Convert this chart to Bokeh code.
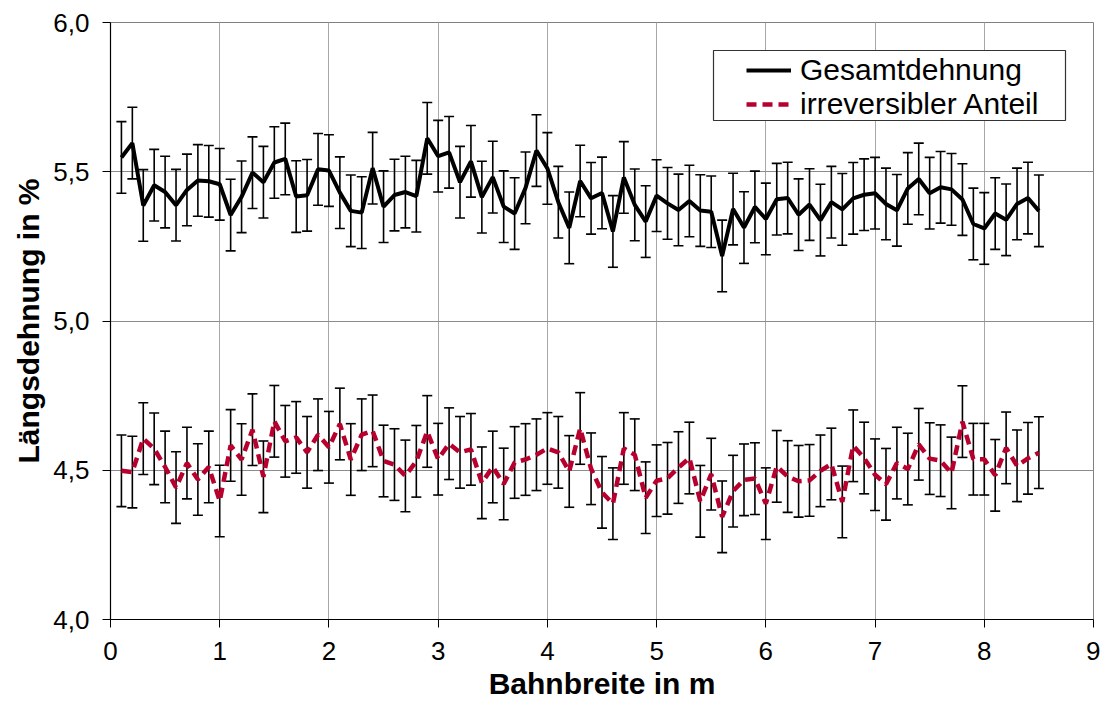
import numpy as np
from bokeh.plotting import figure
from bokeh.models import (ColumnDataSource, Whisker, TeeHead, Legend, LegendItem,
                          FixedTicker, CustomJSTickFormatter, Range1d, BoxAnnotation)
from bokeh.embed import file_html
from bokeh.resources import INLINE

# ---- data ----
x_pos = [0.1, 0.2, 0.3, 0.4, 0.5, 0.6, 0.7, 0.8, 0.9, 1.0,
         1.1, 1.2, 1.3, 1.4, 1.5, 1.6, 1.7, 1.8, 1.9, 2.0,
         2.1, 2.2, 2.3, 2.4, 2.5, 2.6, 2.7, 2.8, 2.9, 3.0,
         3.1, 3.2, 3.3, 3.4, 3.5, 3.6, 3.7, 3.8, 3.9, 4.0,
         4.1, 4.2, 4.3, 4.4, 4.5, 4.6, 4.7, 4.8, 4.9, 5.0,
         5.1, 5.2, 5.3, 5.4, 5.5, 5.6, 5.7, 5.8, 5.9, 6.0,
         6.1, 6.2, 6.3, 6.4, 6.5, 6.6, 6.7, 6.8, 6.9, 7.0,
         7.1, 7.2, 7.3, 7.4, 7.5, 7.6, 7.7, 7.8, 7.9, 8.0,
         8.1, 8.2, 8.3, 8.4, 8.5]

gesamt = [5.548, 5.596, 5.387, 5.455, 5.432, 5.388, 5.439, 5.471, 5.468, 5.458,
          5.355, 5.416, 5.497, 5.465, 5.531, 5.543, 5.417, 5.421, 5.508, 5.504,
          5.430, 5.369, 5.363, 5.512, 5.383, 5.422, 5.432, 5.418, 5.612, 5.552,
          5.565, 5.465, 5.535, 5.415, 5.482, 5.383, 5.360, 5.446, 5.571, 5.511,
          5.398, 5.312, 5.469, 5.411, 5.429, 5.300, 5.481, 5.389, 5.333, 5.420,
          5.394, 5.372, 5.402, 5.370, 5.366, 5.218, 5.375, 5.313, 5.382, 5.342,
          5.408, 5.412, 5.356, 5.390, 5.338, 5.398, 5.374, 5.411, 5.423, 5.428,
          5.392, 5.371, 5.444, 5.476, 5.428, 5.448, 5.441, 5.407, 5.325, 5.310,
          5.360, 5.339, 5.392, 5.412, 5.369]

irrev = [4.498, 4.494, 4.606, 4.572, 4.511, 4.442, 4.524, 4.469, 4.511, 4.397,
         4.583, 4.536, 4.636, 4.478, 4.664, 4.597, 4.610, 4.560, 4.619, 4.577,
         4.655, 4.536, 4.619, 4.632, 4.531, 4.519, 4.481, 4.530, 4.630, 4.537,
         4.589, 4.560, 4.570, 4.458, 4.511, 4.454, 4.526, 4.536, 4.552, 4.573,
         4.560, 4.496, 4.640, 4.505, 4.426, 4.388, 4.573, 4.552, 4.408, 4.465,
         4.473, 4.509, 4.541, 4.396, 4.487, 4.344, 4.430, 4.468, 4.472, 4.388,
         4.513, 4.479, 4.463, 4.466, 4.498, 4.521, 4.394, 4.582, 4.541, 4.485,
         4.453, 4.524, 4.504, 4.587, 4.539, 4.532, 4.491, 4.663, 4.537, 4.537,
         4.483, 4.575, 4.515, 4.540, 4.559]

err_gesamt = 0.12
err_irrev = 0.12

x_ticks = [0, 1, 2, 3, 4, 5, 6, 7, 8, 9]
y_ticks = [4.0, 4.5, 5.0, 5.5, 6.0]

series_names = ["Gesamtdehnung", "irreversibler Anteil"]

# ---- layout (pixels) ----
W, H = 1100, 706
B_LEFT, B_TOP, B_RIGHT, B_BOTTOM = 110, 22, 7, 87
FRAME_W = W - B_LEFT - B_RIGHT
FRAME_H = H - B_TOP - B_BOTTOM
X0, X1, Y0, Y1 = 0, 9, 4.0, 6.0
# legend box in page pixels (left, top, right, bottom)
LBOX = (713, 50, 1065, 120)

def px_to_x(px):
    return X0 + (px - B_LEFT) / FRAME_W * (X1 - X0)

def py_to_y(py):
    return Y1 - (py - B_TOP) / FRAME_H * (Y1 - Y0)

FONT = "Liberation Sans"
RED = "#B8002E"

p = figure(width=W, height=H, output_backend="svg", toolbar_location=None,
           x_range=Range1d(X0, X1), y_range=Range1d(Y0, Y1),
           min_border_left=B_LEFT, min_border_top=B_TOP, min_border_right=B_RIGHT,
           min_border_bottom=B_BOTTOM)
p.background_fill_color = "white"
p.border_fill_color = "white"
p.outline_line_color = "#808080"
p.outline_line_width = 1

g = np.array(gesamt)
r = np.array(irrev)
src_g = ColumnDataSource(dict(x=x_pos, y=gesamt, lo=list(g - err_gesamt), hi=list(g + err_gesamt)))
src_r = ColumnDataSource(dict(x=x_pos, y=irrev, lo=list(r - err_irrev), hi=list(r + err_irrev)))

for src in (src_g, src_r):
    w = Whisker(source=src, base="x", upper="hi", lower="lo", dimension="height",
                line_color="black", line_width=1.6,
                upper_head=TeeHead(size=10, line_color="black", line_width=1.6),
                lower_head=TeeHead(size=10, line_color="black", line_width=1.6))
    p.add_layout(w)

l_red = p.line("x", "y", source=src_r, line_color=RED, line_width=4.5,
               line_dash="10 6")
l_blk = p.line("x", "y", source=src_g, line_color="black", line_width=4)

# axes
p.xaxis.ticker = FixedTicker(ticks=x_ticks)
p.yaxis.ticker = FixedTicker(ticks=y_ticks)
p.yaxis.formatter = CustomJSTickFormatter(code="return tick.toFixed(1).replace('.', ',');")
for ax in (p.xaxis[0], p.yaxis[0]):
    ax.major_label_text_font = FONT
    ax.major_label_text_font_size = "26px"
    ax.major_label_text_color = "black"
    ax.axis_label_text_font = FONT
    ax.axis_label_text_font_size = "30px"
    ax.axis_label_text_font_style = "bold"
    ax.axis_label_text_color = "black"
    ax.axis_line_color = "black"
    ax.axis_line_width = 1.2
    ax.major_tick_line_color = "black"
    ax.major_tick_out = 8
    ax.major_tick_in = 0
    ax.minor_tick_out = 0
    ax.minor_tick_in = 0
p.xaxis.axis_label = "Bahnbreite in m"
p.yaxis.axis_label = "Längsdehnung in %"
p.yaxis.major_label_standoff = 13
p.yaxis.axis_label_standoff = 5
p.xaxis.major_label_standoff = 14
p.xaxis.axis_label_standoff = 4

p.xgrid.ticker = FixedTicker(ticks=x_ticks)
p.ygrid.ticker = FixedTicker(ticks=y_ticks)
p.xgrid.grid_line_color = "#A8A8A8"
p.ygrid.grid_line_color = "#8C8C8C"
p.xgrid.grid_line_width = 1
p.ygrid.grid_line_width = 1

# legend frame
box = BoxAnnotation(left=px_to_x(LBOX[0]), right=px_to_x(LBOX[2]),
                    top=py_to_y(LBOX[1]), bottom=py_to_y(LBOX[3]),
                    fill_color="white", fill_alpha=1.0,
                    line_color="#333333", line_width=1.2, line_alpha=1.0)
p.add_layout(box)

legend = Legend(items=[LegendItem(label=series_names[0], renderers=[l_blk]),
                       LegendItem(label=series_names[1], renderers=[l_red])],
                location=(746 - B_LEFT, H - B_BOTTOM - 121))
legend.label_text_font = FONT
legend.label_text_font_size = "30px"
legend.label_text_color = "black"
legend.glyph_width = 45
legend.glyph_height = 22
legend.label_height = 30
legend.label_standoff = 9
legend.spacing = 0
legend.padding = 0
legend.margin = 0
legend.border_line_color = None
legend.background_fill_alpha = 0
p.add_layout(legend, "center")

open("out.html", "w").write(file_html(p, INLINE))
